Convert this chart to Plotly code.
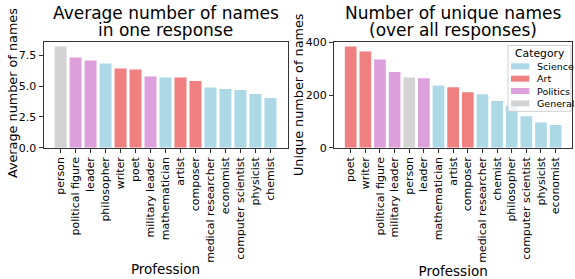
import plotly.graph_objects as go

W, H = 575, 279

# ---- data ----
left_professions = ["person", "political figure", "leader", "philosopher", "writer", "poet",
                    "military leader", "mathematician", "artist", "composer", "medical researcher",
                    "economist", "computer scientist", "physicist", "chemist"]
left_values = [8.2, 7.31, 7.07, 6.83, 6.42, 6.34, 5.78, 5.70, 5.70, 5.40, 4.89, 4.76, 4.68, 4.35, 4.03]

right_professions = ["poet", "writer", "political figure", "military leader", "person", "leader",
                     "mathematician", "artist", "composer", "medical researcher", "chemist",
                     "philosopher", "computer scientist", "physicist", "economist"]
right_values = [385, 366, 336, 288, 267, 264, 237, 230, 211, 203, 178, 160, 120, 96, 86]

category_of = {
    "person": "General",
    "political figure": "Politics", "leader": "Politics", "military leader": "Politics",
    "writer": "Art", "poet": "Art", "artist": "Art", "composer": "Art",
    "philosopher": "Science", "mathematician": "Science", "medical researcher": "Science",
    "economist": "Science", "computer scientist": "Science", "physicist": "Science",
    "chemist": "Science",
}
categories = ["Science", "Art", "Politics", "General"]
colors = {"Science": "#ADD8E6", "Art": "#F08080", "Politics": "#DDA0DD", "General": "#D3D3D3"}

left_title = ["Average number of names", "in one response"]
right_title = ["Number of unique names", "(over all responses)"]

FONT = "DejaVu Sans"

fig = go.Figure()

def add_panel(profs, vals, xa, ya):
    for cat in categories:
        xs = [p for p in profs if category_of[p] == cat]
        ys = [v for p, v in zip(profs, vals) if category_of[p] == cat]
        fig.add_trace(go.Bar(x=xs, y=ys, name=cat, marker_color=colors[cat], marker_line_width=0,
                             width=0.8, xaxis=xa, yaxis=ya, showlegend=False))

add_panel(left_professions, left_values, "x", "y")
add_panel(right_professions, right_values, "x2", "y2")

def px_x(p):
    return p / W

def px_y(p):
    return 1 - p / H

top, bottom = 41.5, 147.7
l1, r1 = 43.5, 287.5
l2, r2 = 334, 572.3

axis_common = dict(showline=True, mirror=True, linecolor="#333", linewidth=1, ticks="outside",
                   ticklen=4, tickcolor="#333", showgrid=False, zeroline=False, automargin=False,
                   tickfont=dict(family=FONT, size=11, color="black"))

n = len(left_professions)
shapes = []
annotations = []

def text_ann(text, x, y, size, xanchor="center", angle=0):
    annotations.append(dict(text=text, x=px_x(x), y=px_y(y), xref="paper", yref="paper",
                            xanchor=xanchor, yanchor="middle", showarrow=False, textangle=angle,
                            font=dict(family=FONT, size=size, color="black")))

# panel titles
for lines, cx in ((left_title, (l1 + r1) / 2), (right_title, (l2 + r2) / 2)):
    text_ann(lines[0], cx, 12.6, 17)
    text_ann(lines[1], cx, 30.2, 17)

# y-axis labels
text_ann("Average number of names", 12.5, (top + bottom) / 2 - 1, 12.8, angle=-90)
text_ann("Unique number of names", 298.5, (top + bottom) / 2, 12.8, angle=-90)

# legend (matplotlib-style box, in the right panel's upper-right corner)
lg_x0, lg_x1, lg_y0, lg_y1 = 508, 571, 45.5, 111.3
shapes.append(dict(type="rect", xref="paper", yref="paper", layer="above",
                   x0=px_x(lg_x0), x1=px_x(lg_x1), y0=px_y(lg_y1), y1=px_y(lg_y0),
                   fillcolor="rgba(255,255,255,0.8)", line=dict(color="#d0d0d0", width=1)))
text_ann("Category", (lg_x0 + lg_x1) / 2, 53.3, 10.8)
for i, cat in enumerate(categories):
    cy = 66.3 + i * 12.35
    shapes.append(dict(type="rect", xref="paper", yref="paper", layer="above",
                       x0=px_x(511), x1=px_x(529.3), y0=px_y(cy + 3), y1=px_y(cy - 3),
                       fillcolor=colors[cat], line=dict(width=0)))
    text_ann(cat, 534.5, cy, 9.5, xanchor="left")

fig.update_layout(
    width=W, height=H, margin=dict(l=0, r=0, t=0, b=0, autoexpand=False),
    paper_bgcolor="white", plot_bgcolor="white",
    barmode="relative", showlegend=False,
    font=dict(family=FONT, color="black"),
    xaxis=dict(domain=[px_x(l1), px_x(r1)], anchor="y", type="category",
               categoryorder="array", categoryarray=left_professions,
               range=[-1.14, n - 1 + 1.14], tickangle=-90,
               title=dict(text="Profession", font=dict(family=FONT, size=13.5), standoff=2),
               **axis_common),
    yaxis=dict(domain=[px_y(bottom), px_y(top)], anchor="x", range=[0, 8.61],
               tickvals=[0, 2.5, 5.0, 7.5], ticktext=["0.0", "2.5", "5.0", "7.5"],
               **axis_common),
    xaxis2=dict(domain=[px_x(l2), px_x(r2)], anchor="y2", type="category",
                categoryorder="array", categoryarray=right_professions,
                range=[-1.14, n - 1 + 1.14], tickangle=-90,
                title=dict(text="Profession", font=dict(family=FONT, size=13.5), standoff=2),
                **axis_common),
    yaxis2=dict(domain=[px_y(bottom), px_y(top)], anchor="x2", range=[0, 404],
                tickvals=[0, 200, 400],
                **axis_common),
    shapes=shapes,
    annotations=annotations,
)

fig.write_html("out.html", config={"displayModeBar": False},
               post_script="document.body.style.margin='0';")
